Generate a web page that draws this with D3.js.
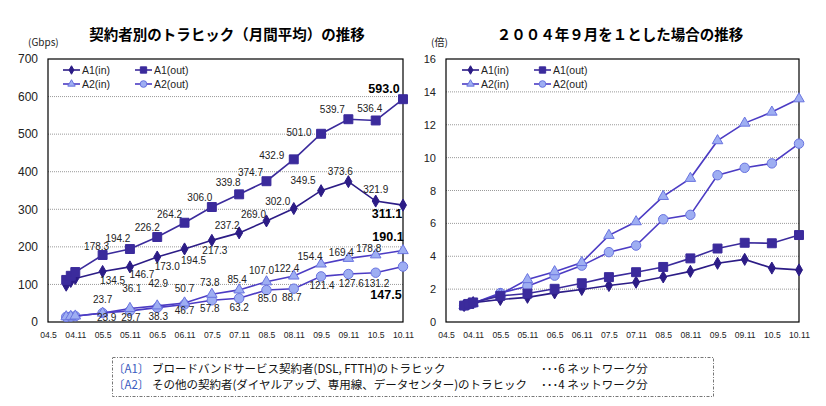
<!DOCTYPE html>
<html>
<head>
<meta charset="utf-8">
<script src="https://cdn.jsdelivr.net/npm/d3@7"></script>
<style>
  body { margin: 0; background: #fff; }
  svg { font-family: "Liberation Sans", Arial, sans-serif; }
  .jp { font-family: "Noto Sans CJK JP", sans-serif; }
</style>
</head>
<body>
<div id="container"></div>
<script>
// data
let months = ["04.9", "04.10", "04.11", "05.5", "05.11", "06.5", "06.11", "07.5", "07.11", "08.5", "08.11", "09.5", "09.11", "10.5", "10.11"];
let tickLabels = ["04.5", "04.11", "05.5", "05.11", "06.5", "06.11", "07.5", "07.11", "08.5", "08.11", "09.5", "09.11", "10.5", "10.11"];
let seriesNames = ["A1(in)", "A1(out)", "A2(in)", "A2(out)"];

// traffic, Gbps
let a1In  = [98, 108, 116, 134.5, 146.7, 173.0, 194.5, 217.3, 237.2, 269.0, 302.0, 349.5, 373.6, 321.9, 311.1];
let a1Out = [112, 123, 133, 178.3, 194.2, 226.2, 264.2, 306.0, 339.8, 374.7, 432.9, 501.0, 539.7, 536.4, 593.0];
let a2In  = [14.0, 15.0, 16.0, 23.7, 36.1, 42.9, 50.7, 73.8, 85.4, 107.0, 122.4, 154.4, 169.4, 178.8, 190.1];
let a2Out = [13.6, 14.5, 15.5, 23.9, 29.7, 38.3, 46.7, 57.8, 63.2, 85.0, 88.7, 121.4, 127.6, 131.2, 147.5];

// ratio to 2004.9
let a1InRatio  = [1.00, 1.10, 1.18, 1.37, 1.50, 1.77, 1.98, 2.22, 2.42, 2.74, 3.08, 3.57, 3.81, 3.28, 3.17];
let a1OutRatio = [1.00, 1.10, 1.19, 1.59, 1.73, 2.02, 2.36, 2.73, 3.03, 3.35, 3.87, 4.47, 4.82, 4.79, 5.29];
let a2InRatio  = [1.00, 1.07, 1.14, 1.69, 2.58, 3.06, 3.62, 5.27, 6.10, 7.64, 8.74, 11.03, 12.10, 12.77, 13.58];
let a2OutRatio = [1.00, 1.07, 1.14, 1.76, 2.18, 2.82, 3.43, 4.25, 4.65, 6.25, 6.52, 8.93, 9.38, 9.65, 10.85];

let leftTicks = [0, 100, 200, 300, 400, 500, 600, 700];
let rightTicks = [0, 2, 4, 6, 8, 10, 12, 14, 16];

let w = 826;
let h = 406;

let viz = d3.select("#container")
  .append("svg")
    .attr("width", w)
    .attr("height", h)
;

// month index counted from 04.5
function monthIndex(s){
  let p = s.split(".");
  return (+p[0] - 4) * 12 + (+p[1] - 5);
}

let darkLine = "#2c1c86";
let midLine = "#3b2b9c";
let blueLine = "#4c3cc4";
let lightFill = "#9eaef2";
let lightStroke = "#6a74e0";

let styles = [
  {shape: d3.symbolDiamond, size: 42, fill: darkLine, stroke: darkLine, line: darkLine},
  {shape: d3.symbolSquare, size: 80, fill: midLine, stroke: midLine, line: midLine},
  {shape: d3.symbolTriangle, size: 48, fill: lightFill, stroke: lightStroke, line: blueLine},
  {shape: d3.symbolCircle, size: 70, fill: lightFill, stroke: lightStroke, line: blueLine}
];

function drawPanel(opt){
  let g = viz.append("g");

  let xScale = d3.scaleLinear().domain([0, 78]).range([opt.x0, opt.x1]);
  let yScale = d3.scaleLinear().domain([0, opt.yMax]).range([322, 59]);

  // gridlines
  g.selectAll(".grid").data(opt.ticks.slice(1, -1)).enter()
    .append("line")
      .attr("x1", opt.x0).attr("x2", opt.x1)
      .attr("y1", d => yScale(d)).attr("y2", d => yScale(d))
      .attr("stroke", "#9a9a9a")
      .attr("stroke-dasharray", "1,1")
  ;

  // frame
  g.append("rect")
    .attr("x", opt.x0).attr("y", yScale(opt.yMax))
    .attr("width", opt.x1 - opt.x0).attr("height", yScale(0) - yScale(opt.yMax))
    .attr("fill", "none").attr("stroke", "#000").attr("stroke-width", 1.2)
  ;

  // y axis labels
  let yAxis = d3.axisLeft(yScale).tickValues(opt.ticks).tickSize(0).tickPadding(opt.yPad);
  let yAxisGroup = g.append("g").attr("transform", "translate(" + opt.x0 + ",0)").call(yAxis);
  yAxisGroup.select(".domain").remove();
  yAxisGroup.selectAll("text").attr("font-size", opt.yFont).attr("fill", "#222").attr("font-family", "Liberation Sans, Arial");

  // x axis labels
  let xAxis = d3.axisBottom(xScale)
    .tickValues(tickLabels.map(monthIndex))
    .tickFormat((d, i) => tickLabels[i])
    .tickSize(0).tickPadding(10);
  let xAxisGroup = g.append("g").attr("transform", "translate(0,322)").call(xAxis);
  xAxisGroup.select(".domain").remove();
  xAxisGroup.selectAll("text").attr("font-size", 8.6).attr("fill", "#222").attr("font-family", "Liberation Sans, Arial");

  // title and unit
  g.append("text").classed("jp", true)
    .attr("x", opt.titleX).attr("y", 40)
    .attr("text-anchor", "middle")
    .attr("font-size", 14.5).attr("font-weight", "bold")
    .text(opt.title);
  g.append("text").classed("jp", true)
    .attr("x", opt.unitX).attr("y", 46)
    .attr("font-size", 10).attr("fill", "#222")
    .text(opt.unit);

  // lines and markers
  let xs = months.map(monthIndex);
  let line = d3.line().x((d, i) => xScale(xs[i])).y(d => yScale(d));
  let order = [3, 2, 0, 1];
  order.forEach(function(k){
    let st = styles[k];
    let vals = opt.series[k];
    g.append("path")
      .attr("d", line(vals))
      .attr("fill", "none")
      .attr("stroke", st.line)
      .attr("stroke-width", 1.6)
    ;
    g.selectAll(".m" + k).data(vals).enter()
      .append("path")
        .attr("transform", (d, i) => "translate(" + xScale(xs[i]) + "," + yScale(d) + ")")
        .attr("d", d3.symbol().type(st.shape).size(st.size))
        .attr("fill", st.fill)
        .attr("stroke", st.stroke)
        .attr("stroke-width", 1)
    ;
  });

  // legend
  let lg = g.append("g");
  seriesNames.forEach(function(name, k){
    let st = styles[k];
    let lx = opt.legendX + (k % 2) * 72;
    let ly = 70 + Math.floor(k / 2) * 14;
    lg.append("line")
      .attr("x1", lx).attr("x2", lx + 17)
      .attr("y1", ly).attr("y2", ly)
      .attr("stroke", st.line).attr("stroke-width", 1.6);
    lg.append("path")
      .attr("transform", "translate(" + (lx + 8.5) + "," + ly + ")")
      .attr("d", d3.symbol().type(st.shape).size(st.size * 0.5))
      .attr("fill", st.fill).attr("stroke", st.stroke);
    lg.append("text")
      .attr("x", lx + 19).attr("y", ly + 4)
      .attr("font-size", 10.5).attr("fill", "#222")
      .text(name);
  });

  return {g: g, xScale: xScale, yScale: yScale, xs: xs};
}

let left = drawPanel({
  x0: 48, x1: 403, yMax: 700, ticks: leftTicks, yPad: 10, yFont: 12,
  title: "契約者別のトラヒック（月間平均）の推移", titleX: 227,
  unit: "(Gbps)", unitX: 28, legendX: 63,
  series: [a1In, a1Out, a2In, a2Out]
});

let right = drawPanel({
  x0: 446, x1: 799, yMax: 16, ticks: rightTicks, yPad: 10, yFont: 11,
  title: "２００４年９月を１とした場合の推移", titleX: 620,
  unit: "(倍)", unitX: 431, legendX: 462,
  series: [a1InRatio, a1OutRatio, a2InRatio, a2OutRatio]
});

// data labels on the left panel: the first three months carry no label.
// label nudges (label centre minus point, px) for the points 05.5 .. 10.11
let labelNudge = [
  { // A1(in)
    dx: [10, 12, 10, 9, 3, -12, -13, -16, -18, -8, 0, -16],
    dy: [9, 7, 9, 11, 10, -8, -7, -7, -10, -10, -12, 8]
  },
  { // A1(out)
    dx: [-6, -12, -10, -15, -12, -11, -16, -22, -22, -16, -6, -19],
    dy: [-9, -11, -10, -9, -10, -12, -9, -4, -2, -10, -12, -11]
  },
  { // A2(in)
    dx: [0, 2, 1, 0, -2, -2, -5, -7, -11, -7, -7, -15],
    dy: [-14, -20, -23, -15, -12, -11, -12, -8, -8, -6, -7, -14]
  },
  { // A2(out)
    dx: [4, 1, 1, 0, -2, 0, 1, -2, 1, 3, 1, -17],
    dy: [4, 6, 9, 6, 8, 9, 8, 9, 9, 9, 10, 28]
  }
];
let leftSeries = [a1In, a1Out, a2In, a2Out];
let last = months.length - 1;

leftSeries.forEach(function(vals, k){
  for (let i = 3; i <= last; i++){
    let isLast = i == last;
    let px = left.xScale(left.xs[i]);
    let py = left.yScale(vals[i]);
    left.g.append("text")
      .attr("x", px + labelNudge[k].dx[i - 3])
      .attr("y", py + labelNudge[k].dy[i - 3] + (isLast ? 4.5 : 3.8))
      .attr("text-anchor", "middle")
      .attr("font-size", isLast ? 12.5 : 10)
      .attr("font-weight", isLast ? "bold" : "normal")
      .attr("fill", isLast ? "#000" : "#222")
      .text(d3.format(".1f")(vals[i]));
  }
});

// note box
let note = viz.append("g");
note.append("rect")
  .attr("x", 112.5).attr("y", 357.5)
  .attr("width", 601).attr("height", 39)
  .attr("fill", "none")
  .attr("stroke", "#777")
  .attr("stroke-dasharray", "3,1.5,1,1.5");

let noteRows = [
  ["〔A1〕", " ブロードバンドサービス契約者(DSL, FTTH)のトラヒック", "･･･6 ネットワーク分"],
  ["〔A2〕", " その他の契約者(ダイヤルアップ、専用線、データセンター)のトラヒック", "･･･4 ネットワーク分"]
];
noteRows.forEach(function(r, i){
  let t = note.append("text").classed("jp", true)
    .attr("x", 113).attr("y", 373 + i * 16)
    .attr("font-size", 11.5).attr("fill", "#111");
  t.append("tspan").attr("fill", "#3a5cc0").text(r[0]);
  t.append("tspan").text(r[1]);
  note.append("text").classed("jp", true)
    .attr("x", 541).attr("y", 373 + i * 16)
    .attr("font-size", 11.5).attr("fill", "#111")
    .text(r[2]);
});
</script>
</body>
</html>
